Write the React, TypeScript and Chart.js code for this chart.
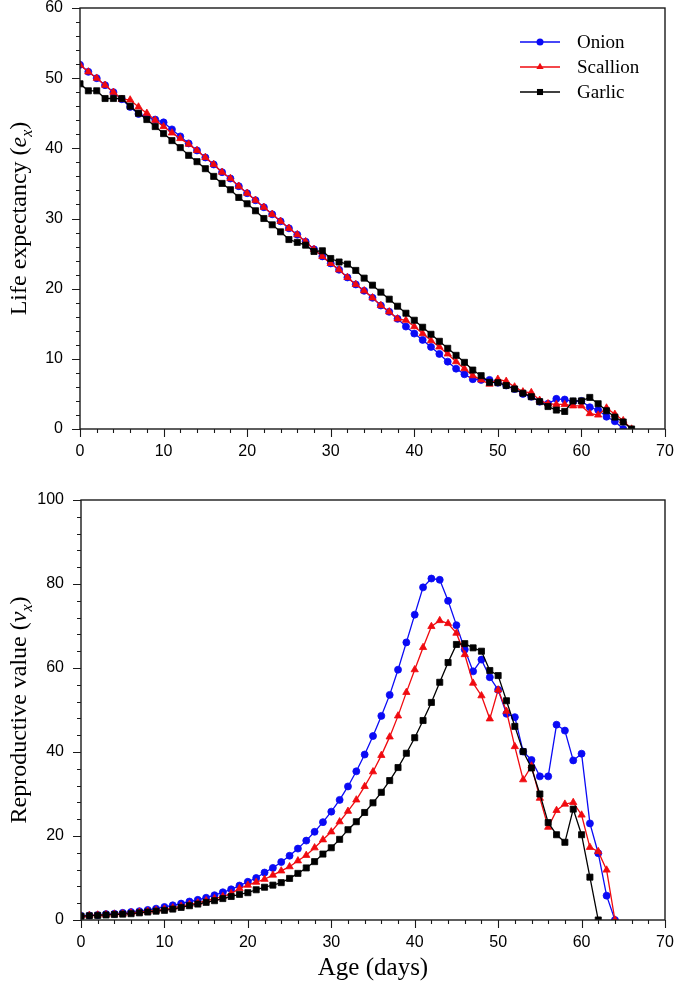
import React, { useEffect, useRef } from 'react';
import { Chart, registerables } from 'chart.js';
Chart.register(...registerables);

// ---------- data ----------
const agesTop = [0,1,2,3,4,5,6,7,8,9,10,11,12,13,14,15,16,17,18,19,20,21,22,23,24,25,26,27,28,29,30,31,32,33,34,35,36,37,38,39,40,41,42,43,44,45,46,47,48,49,50,51,52,53,54,55,56,57,58,59,60,61,62,63,64,65,66];

const onionEx = [51.9,50.9,50.0,49.0,48.0,47.0,45.9,44.9,44.5,44.1,43.7,42.7,41.7,40.7,39.7,38.7,37.7,36.6,35.7,34.6,33.6,32.6,31.6,30.6,29.6,28.6,27.7,26.7,25.6,24.6,23.6,22.7,21.6,20.6,19.7,18.7,17.6,16.7,15.7,14.6,13.6,12.7,11.7,10.7,9.6,8.6,7.8,7.1,7.0,7.0,6.6,6.2,5.7,5.0,4.6,3.9,3.6,4.3,4.2,3.9,4.0,3.1,2.7,1.75,1.1,0];
const scallionEx = [51.9,50.9,50.0,49.0,48.0,47.0,46.9,45.9,45.0,44.0,43.1,42.2,41.4,40.6,39.7,38.7,37.7,36.6,35.7,34.6,33.6,32.6,31.6,30.6,29.6,28.6,27.7,26.7,25.6,24.6,23.6,22.7,21.6,20.6,19.7,18.7,17.6,16.7,15.7,15.5,14.6,13.6,12.6,11.7,10.7,9.6,8.6,7.6,7.0,6.4,7.1,6.8,6.0,5.3,5.2,4.1,3.6,3.5,3.5,3.3,3.3,2.2,2.0,3.0,2.1,1.2,0];
const garlicEx = [49.2,48.2,48.2,47.1,47.1,47.1,46.0,45.0,44.1,43.1,42.1,41.1,40.1,39.0,38.1,37.1,36.0,35.0,34.1,33.0,32.1,31.1,30.0,29.1,28.1,27.0,26.6,26.2,25.3,25.4,24.3,23.8,23.5,22.6,21.5,20.5,19.5,18.5,17.5,16.5,15.5,14.5,13.5,12.5,11.5,10.5,9.5,8.4,7.6,6.65,6.6,6.2,5.7,5.1,4.6,3.9,3.2,2.7,2.5,4.0,4.0,4.5,3.6,2.6,1.7,1.0,0];

const agesBottom = [0,1,2,3,4,5,6,7,8,9,10,11,12,13,14,15,16,17,18,19,20,21,22,23,24,25,26,27,28,29,30,31,32,33,34,35,36,37,38,39,40,41,42,43,44,45,46,47,48,49,50,51,52,53,54,55,56,57,58,59,60,61,62,63,64];

const onionVx = [1.0,1.1,1.2,1.4,1.5,1.7,1.9,2.1,2.4,2.7,3.1,3.5,3.9,4.4,4.8,5.3,5.9,6.6,7.3,8.2,9.1,10.0,11.3,12.4,13.8,15.3,17.0,18.9,21.0,23.3,25.8,28.6,31.8,35.4,39.4,43.8,48.6,53.6,59.6,66.1,72.7,79.2,81.3,81.0,76.0,70.2,64.4,59.2,62.0,57.8,54.8,49.1,48.3,40.1,38.1,34.2,34.2,46.5,45.1,38.0,39.6,23.0,15.9,5.8,0];
const scallionVx = [1.0,1.1,1.2,1.3,1.4,1.5,1.7,1.9,2.1,2.3,2.6,2.9,3.3,3.7,4.1,4.6,5.1,5.6,6.3,7.5,8.3,9.0,9.7,10.7,11.7,12.7,14.1,15.4,17.2,19.1,21.0,23.4,25.9,28.6,31.8,35.3,39.2,43.6,48.6,54.2,59.6,64.9,69.9,71.3,70.6,68.3,63.2,56.4,53.4,47.9,54.8,49.7,41.3,33.4,36.7,29.0,22.1,26.1,27.6,28.0,25.0,17.3,16.3,11.9,0];
const garlicVx = [0.9,1.0,1.1,1.2,1.3,1.4,1.5,1.7,1.9,2.1,2.3,2.6,3.0,3.4,3.8,4.2,4.6,5.1,5.6,6.1,6.5,7.2,7.8,8.3,8.9,9.9,11.1,12.4,13.9,15.7,17.2,19.2,21.5,23.4,25.6,27.9,30.4,33.2,36.3,39.7,43.4,47.5,51.8,56.6,61.3,65.6,65.8,64.8,64.0,59.4,58.2,52.2,46.1,40.1,36.2,30.0,23.2,20.3,18.5,26.4,20.3,10.2,0];

const seriesNames = ['Onion', 'Scallion', 'Garlic'];
const seriesColors = ['rgb(10,10,245)', 'rgb(240,10,15)', 'rgb(0,0,0)'];
const seriesPoints = ['circle', 'triangle', 'rect'];
const seriesRadius = [3.5, 4.2, 4.3];

const xTickValues = [0, 10, 20, 30, 40, 50, 60, 70];
const yTicksTop = [0, 10, 20, 30, 40, 50, 60];
const yTicksBottom = [0, 20, 40, 60, 80, 100];

// ---------- helpers ----------
type Part = { t: string; it?: boolean; sub?: boolean };

function makeDataset(i: number, ages: number[], vals: number[]) {
  return {
    label: seriesNames[i],
    data: vals.map((v, k) => ({ x: ages[k], y: v })),
    borderColor: seriesColors[i],
    backgroundColor: seriesColors[i],
    pointBackgroundColor: seriesColors[i],
    pointBorderColor: seriesColors[i],
    pointStyle: seriesPoints[i],
    pointRadius: seriesRadius[i],
    pointBorderWidth: 0.8,
    borderWidth: 1.3,
    tension: 0,
    order: 3 - i,
  };
}

function drawMarker(ctx: CanvasRenderingContext2D, style: string, x: number, y: number, r: number) {
  ctx.beginPath();
  if (style === 'circle') {
    ctx.arc(x, y, r, 0, Math.PI * 2);
  } else if (style === 'triangle') {
    for (let k = 0; k < 3; k++) {
      const a = -Math.PI / 2 + k * (2 * Math.PI / 3);
      const px = x + Math.cos(a) * r;
      const py = y + Math.sin(a) * r;
      if (k === 0) ctx.moveTo(px, py); else ctx.lineTo(px, py);
    }
    ctx.closePath();
  } else {
    const s = Math.SQRT1_2 * r;
    ctx.rect(x - s, y - s, 2 * s, 2 * s);
  }
  ctx.fill();
}

function decor(cfg: {
  xMinor: number; xMajor: number; yMinor: number; yMajor: number;
  titleX: number; parts: Part[]; legend: boolean;
}) {
  return {
    id: 'decor',
    afterDraw(chart: any) {
      const { ctx, chartArea: a, scales } = chart;
      const xs = scales.x, ys = scales.y;
      ctx.save();
      ctx.strokeStyle = '#1a1a1a';
      ctx.lineWidth = 1.4;
      ctx.strokeRect(a.left, a.top, a.right - a.left, a.bottom - a.top);
      ctx.lineWidth = 1.1;
      ctx.beginPath();
      for (let v = xs.min; v <= xs.max + 1e-6; v += cfg.xMinor) {
        const px = Math.round(xs.getPixelForValue(v)) + 0.5;
        const len = Math.abs(v % cfg.xMajor) < 1e-6 ? 8 : 4;
        ctx.moveTo(px, a.bottom);
        ctx.lineTo(px, a.bottom + len);
      }
      for (let v = ys.min; v <= ys.max + 1e-6; v += cfg.yMinor) {
        const py = Math.round(ys.getPixelForValue(v)) + 0.5;
        const len = Math.abs(v % cfg.yMajor) < 1e-6 ? 8 : 4;
        ctx.moveTo(a.left, py);
        ctx.lineTo(a.left - len, py);
      }
      ctx.stroke();

      // y-axis title with italic subscript
      const size = 24;
      const subSize = 16;
      const fontFor = (p: Part) =>
        `${p.it ? 'italic ' : ''}${p.sub ? subSize : size}px "Liberation Serif", "Times New Roman", serif`;
      let total = 0;
      const widths = cfg.parts.map((p) => {
        ctx.font = fontFor(p);
        const w = ctx.measureText(p.t).width;
        total += w;
        return w;
      });
      ctx.save();
      ctx.translate(cfg.titleX, (a.top + a.bottom) / 2);
      ctx.rotate(-Math.PI / 2);
      ctx.fillStyle = '#000';
      ctx.textBaseline = 'alphabetic';
      ctx.textAlign = 'left';
      let cx = -total / 2;
      cfg.parts.forEach((p, k) => {
        ctx.font = fontFor(p);
        ctx.fillText(p.t, cx, size * 0.35 + (p.sub ? size * 0.22 : 0));
        cx += widths[k];
      });
      ctx.restore();

      if (cfg.legend) {
        const ys0 = [42, 67, 92];
        chart.data.datasets.forEach((ds: any, k: number) => {
          const yy = ys0[k];
          ctx.strokeStyle = ds.borderColor;
          ctx.fillStyle = ds.borderColor;
          ctx.lineWidth = 1.5;
          ctx.beginPath();
          ctx.moveTo(520, yy);
          ctx.lineTo(560, yy);
          ctx.stroke();
          drawMarker(ctx, ds.pointStyle, 540, yy, ds.pointRadius);
          ctx.fillStyle = '#000';
          ctx.font = '19px "Liberation Serif", "Times New Roman", serif';
          ctx.textBaseline = 'middle';
          ctx.textAlign = 'left';
          ctx.fillText(ds.label, 577, yy + 1);
        });
      }
      ctx.restore();
    },
  };
}

function zeroPadding(s: any) {
  s.paddingTop = 0;
  s.paddingBottom = 0;
  s.paddingLeft = 0;
  s.paddingRight = 0;
}

function baseScale(min: number, max: number, ticks: number[], step: number, pad: number) {
  return {
    type: 'linear' as const,
    min,
    max,
    afterBuildTicks: (s: any) => {
      s.ticks = ticks.map((v) => ({ value: v }));
    },
    ticks: {
      stepSize: step,
      color: '#000',
      padding: pad,
      font: { family: '"Liberation Sans", Arial, sans-serif', size: 16, lineHeight: 1 },
    },
    grid: { display: false, drawTicks: true, tickLength: 8 },
    border: { display: false },
  };
}

function ChartBox(props: { kind: 'top' | 'bottom'; height: number }) {
  const ref = useRef<HTMLCanvasElement | null>(null);
  useEffect(() => {
    if (!ref.current) return;
    const top = props.kind === 'top';
    const datasets = top
      ? [makeDataset(0, agesTop, onionEx), makeDataset(1, agesTop, scallionEx), makeDataset(2, agesTop, garlicEx)]
      : [makeDataset(0, agesBottom, onionVx), makeDataset(1, agesBottom, scallionVx), makeDataset(2, agesBottom, garlicVx)];
    const xScale: any = baseScale(0, 70, xTickValues, 10, 7);
    xScale.afterFit = (s: any) => { s.height = top ? 41 : 74; zeroPadding(s); };
    if (!top) {
      xScale.title = {
        display: true,
        text: 'Age (days)',
        color: '#000',
        font: { family: '"Liberation Serif", "Times New Roman", serif', size: 25, lineHeight: 1.2 },
        padding: { top: 0, bottom: 11 },
      };
    }
    const yScale: any = top ? baseScale(0, 60, yTicksTop, 10, 9) : baseScale(0, 100, yTicksBottom, 20, 9);
    yScale.afterFit = (s: any) => { s.width = top ? 80 : 81; zeroPadding(s); };

    const chart = new Chart(ref.current, {
      type: 'line',
      data: { datasets: datasets as any },
      options: {
        animation: false,
        responsive: true,
        maintainAspectRatio: false,
        layout: { padding: { top: top ? 8 : 30, right: 10, left: 0, bottom: 0 } },
        plugins: { legend: { display: false }, tooltip: { enabled: false } },
        scales: { x: xScale, y: yScale },
      },
      plugins: [
        decor(
          top
            ? {
                xMinor: 2, xMajor: 10, yMinor: 2, yMajor: 10, titleX: 18, legend: true,
                parts: [{ t: 'Life expectancy (' }, { t: 'e', it: true }, { t: 'x', it: true, sub: true }, { t: ')' }],
              }
            : {
                xMinor: 2, xMajor: 10, yMinor: 4, yMajor: 20, titleX: 18, legend: false,
                parts: [{ t: 'Reproductive value (' }, { t: 'v', it: true }, { t: 'x', it: true, sub: true }, { t: ')' }],
              }
        ) as any,
      ],
    });
    return () => chart.destroy();
  }, [props.kind]);
  return (
    <div style={{ position: 'relative', width: 675, height: props.height }}>
      <canvas ref={ref} />
    </div>
  );
}

export default function App() {
  return (
    <div style={{ position: 'absolute', left: 0, top: 0, width: 675, height: 994, background: '#fff' }}>
      <ChartBox kind="top" height={470} />
      <ChartBox kind="bottom" height={524} />
    </div>
  );
}
